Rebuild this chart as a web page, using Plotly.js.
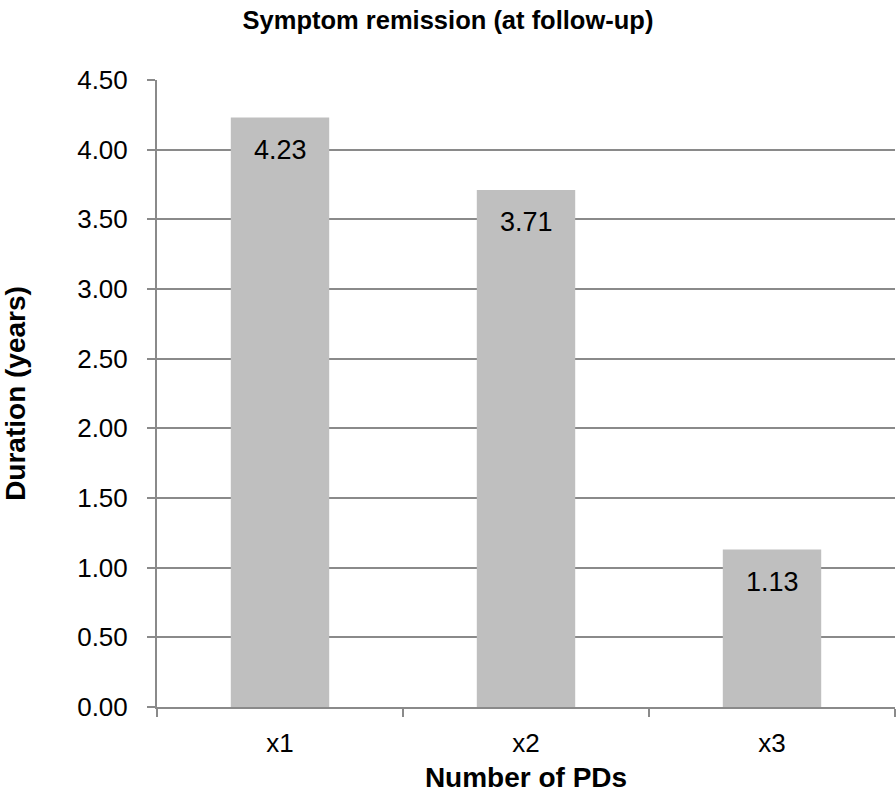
<!DOCTYPE html>
<html><head><meta charset="utf-8">
<script src="https://cdn.plot.ly/plotly-3.0.1.min.js"></script>
<style>html,body{margin:0;padding:0;background:#fff}#chart{width:896px;height:793px}</style>
</head><body><div id="chart"></div>
<script>
const categories = ["x1", "x2", "x3"];
const durations = [4.23, 3.71, 1.13];
const labels = ["4.23", "3.71", "1.13"];

const font = "Liberation Sans, Arial, Helvetica, sans-serif";
const annotations = categories.map((c, i) => ({
  x: c, y: durations[i], xref: "x", yref: "y",
  text: labels[i], showarrow: false,
  yanchor: "middle", yshift: -32,
  font: {family: font, size: 27, color: "#000"}
}));
Plotly.newPlot("chart", [{
  type: "bar",
  x: categories,
  y: durations,
  marker: {color: "#bfbfbf"},
  width: 0.4,
  hoverinfo: "none"
}], {
  width: 896, height: 793,
  margin: {l: 157, r: 1, t: 80, b: 86},
  paper_bgcolor: "#fff", plot_bgcolor: "#fff",
  showlegend: false,
  annotations: annotations,
  title: {text: "<b>Symptom remission (at follow-up)</b>", font: {family: font, size: 25.5, color: "#000"}, x: 0.5, xanchor: "center", y: 0.975, yanchor: "middle"},
  xaxis: {
    type: "category",
    range: [-0.5, 2.5],
    showline: true, linecolor: "#8a8a8a", linewidth: 2,
    ticks: "outside", tickson: "boundaries", ticklen: 8, tickwidth: 2, tickcolor: "#8a8a8a",
    ticklabelstandoff: 12,
    tickfont: {family: font, size: 26, color: "#000"},
    showgrid: false,
    title: {text: "<b>Number of PDs</b>", font: {family: font, size: 28, color: "#000"}, standoff: 12}
  },
  yaxis: {
    range: [0, 4.5], dtick: 0.5, tick0: 0, tickformat: ".2f",
    showline: true, linecolor: "#8a8a8a", linewidth: 2,
    ticks: "outside", ticklen: 8, tickwidth: 2, tickcolor: "#8a8a8a",
    ticklabelstandoff: 14,
    showgrid: true, gridcolor: "#8a8a8a", gridwidth: 2,
    zeroline: false,
    tickfont: {family: font, size: 26, color: "#000"},
    title: {text: "<b>Duration (years)</b>", font: {family: font, size: 28, color: "#000"}, standoff: 44}
  }
}, {displayModeBar: false, staticPlot: true});
</script></body></html>
